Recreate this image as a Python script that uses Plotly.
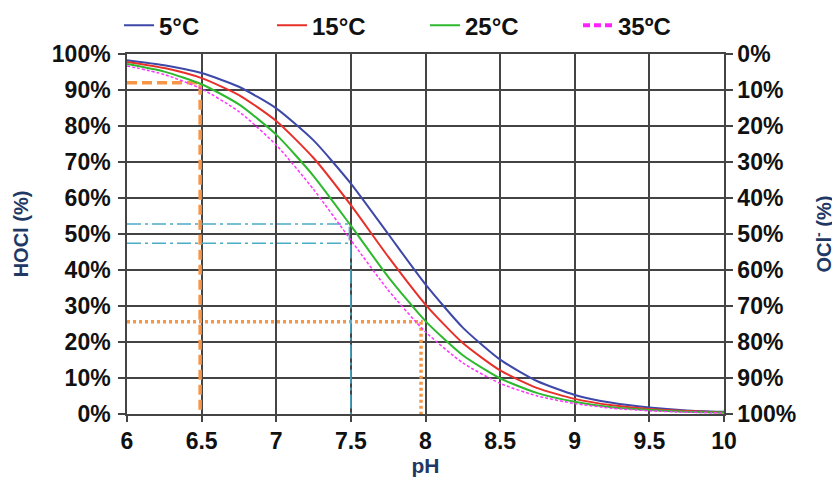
import plotly.graph_objects as go

# ---- data ----
ph = [6.0, 6.25, 6.5, 6.75, 7.0, 7.25, 7.5, 7.75, 8.0, 8.25, 8.5, 8.75, 9.0, 9.25, 9.5, 9.75, 10.0]
hocl_5c  = [98.3, 96.9, 94.7, 90.9, 84.9, 76.0, 64.0, 50.0, 36.0, 24.0, 15.1, 9.1, 5.3, 3.1, 1.8, 1.0, 0.6]
hocl_15c = [97.8, 96.1, 93.3, 88.6, 81.4, 71.1, 58.0, 43.7, 30.4, 19.7, 12.1, 7.2, 4.2, 2.4, 1.4, 0.8, 0.4]
hocl_25c = [97.2, 95.1, 91.6, 86.0, 77.6, 66.1, 52.3, 38.1, 25.8, 16.3, 9.9, 5.8, 3.4, 1.9, 1.1, 0.6, 0.4]
hocl_35c = [96.7, 94.3, 90.3, 84.0, 74.7, 62.4, 48.3, 34.4, 22.8, 14.2, 8.5, 5.0, 2.9, 1.6, 0.9, 0.5, 0.3]
series_names = ["5°C", "15°C", "25°C", "35ºC"]

# guide lines (pH, HOCl %)
guide_orange_dash_ph = [6.0, 6.49, 6.49]
guide_orange_dash_y = [92.0, 92.0, 0.0]
guide_orange_dot_ph = [6.0, 7.97, 7.97]
guide_orange_dot_y = [25.6, 25.6, 0.0]
guide_cyan_upper_ph = [6.0, 7.49, 7.49]
guide_cyan_upper_y = [52.8, 52.8, 47.4]
guide_cyan_lower_ph = [6.0, 7.5, 7.5]
guide_cyan_lower_y = [47.4, 47.4, 0.0]

y_ticks = [0, 10, 20, 30, 40, 50, 60, 70, 80, 90, 100]
y_ticktext = [f"{v}%" for v in y_ticks]
x_ticks = [6, 6.5, 7, 7.5, 8, 8.5, 9, 9.5, 10]
x_ticktext = ["6", "6.5", "7", "7.5", "8", "8.5", "9", "9.5", "10"]

FONT = "Liberation Sans, Arial, sans-serif"
NAVY = "#1F3864"
GRID = "#444444"
TXT = "#111111"

fig = go.Figure()

# guide lines first (behind curves)
fig.add_trace(go.Scatter(x=guide_orange_dash_ph, y=guide_orange_dash_y, mode="lines",
                         line=dict(color="#F79646", width=3.5, dash="10px,5px"),
                         showlegend=False, hoverinfo="skip"))
fig.add_trace(go.Scatter(x=guide_orange_dot_ph, y=guide_orange_dot_y, mode="lines",
                         line=dict(color="#F79646", width=3.5, dash="3px,3px"),
                         showlegend=False, hoverinfo="skip"))
fig.add_trace(go.Scatter(x=guide_cyan_upper_ph, y=guide_cyan_upper_y, mode="lines",
                         line=dict(color="#4BACC6", width=1.5, dash="14px,4px,3px,4px"),
                         showlegend=False, hoverinfo="skip"))
fig.add_trace(go.Scatter(x=guide_cyan_lower_ph, y=guide_cyan_lower_y, mode="lines",
                         line=dict(color="#4BACC6", width=1.5, dash="14px,4px,3px,4px"),
                         showlegend=False, hoverinfo="skip"))

plot_styles = [
    dict(color="#3D48A8", width=2),
    dict(color="#E8302A", width=2),
    dict(color="#2EB82E", width=2),
    dict(color="#FF33FF", width=1.5, dash="3px,2px"),
]
legend_styles = [
    dict(color="#3D48A8", width=2),
    dict(color="#E8302A", width=2),
    dict(color="#2EB82E", width=2),
    dict(color="#FF22FF", width=4, dash="7px,4px"),
]
for name, vals, st, lst in zip(series_names, [hocl_5c, hocl_15c, hocl_25c, hocl_35c],
                               plot_styles, legend_styles):
    fig.add_trace(go.Scatter(x=ph, y=vals, mode="lines", name=name, legendgroup=name,
                             showlegend=False,
                             line=dict(shape="spline", smoothing=0.6, **st)))
    # legend entry (same series, legend styling)
    fig.add_trace(go.Scatter(x=[None], y=[None], mode="lines", name=name, legendgroup=name,
                             showlegend=True, hoverinfo="skip", line=lst))

# dummy trace to activate the right axis
fig.add_trace(go.Scatter(x=[None], y=[None], yaxis="y2", showlegend=False, hoverinfo="skip"))

fig.update_layout(
    width=832, height=476,
    margin=dict(l=119, r=116, t=46, b=70, autoexpand=False),
    paper_bgcolor="white", plot_bgcolor="white",
    font=dict(family=FONT, size=22, color=TXT),
    showlegend=True,
    legend=dict(orientation="h", x=-0.0134, y=1.141, xanchor="left", yanchor="top",
                font=dict(family=FONT, size=24, color=TXT, weight="bold"),
                entrywidth=108, entrywidthmode="pixels", itemwidth=30,
                bgcolor="rgba(0,0,0,0)", tracegroupgap=0),
    xaxis=dict(range=[6, 10], tickvals=x_ticks, ticktext=x_ticktext, automargin=False,
               showgrid=True, gridcolor=GRID, gridwidth=1.5,
               showline=True, linecolor=GRID, linewidth=1.5, mirror=True,
               ticks="outside", ticklen=6, tickcolor=GRID, tickwidth=1.5,
               tickfont=dict(family=FONT, size=23, weight="bold", color=TXT),
               title=dict(text="pH", font=dict(family=FONT, size=21, weight="bold", color=NAVY),
                          standoff=4),
               zeroline=False),
    yaxis=dict(range=[0, 100], tickvals=y_ticks, ticktext=y_ticktext, automargin=False,
               showgrid=True, gridcolor=GRID, gridwidth=1.5,
               showline=True, linecolor=GRID, linewidth=1.5,
               ticks="outside", ticklen=7, tickcolor=GRID, tickwidth=1.5,
               ticklabelstandoff=3,
               tickfont=dict(family=FONT, size=23, weight="bold", color=TXT),
               title=dict(text="HOCl (%)", font=dict(family=FONT, size=20, weight="bold", color=NAVY),
                          standoff=18),
               zeroline=False),
    yaxis2=dict(range=[100, 0], tickvals=y_ticks, ticktext=y_ticktext, automargin=False,
                overlaying="y", side="right", showgrid=False,
                showline=True, linecolor=GRID, linewidth=1.5,
                ticks="outside", ticklen=7, tickcolor=GRID, tickwidth=1.5,
                tickfont=dict(family=FONT, size=23, weight="bold", color=TXT),
                title=dict(text="OCl<sup>-</sup> (%)", font=dict(family=FONT, size=20, weight="bold", color=NAVY),
                           standoff=22),
                zeroline=False),
)

fig.write_html("out.html")
